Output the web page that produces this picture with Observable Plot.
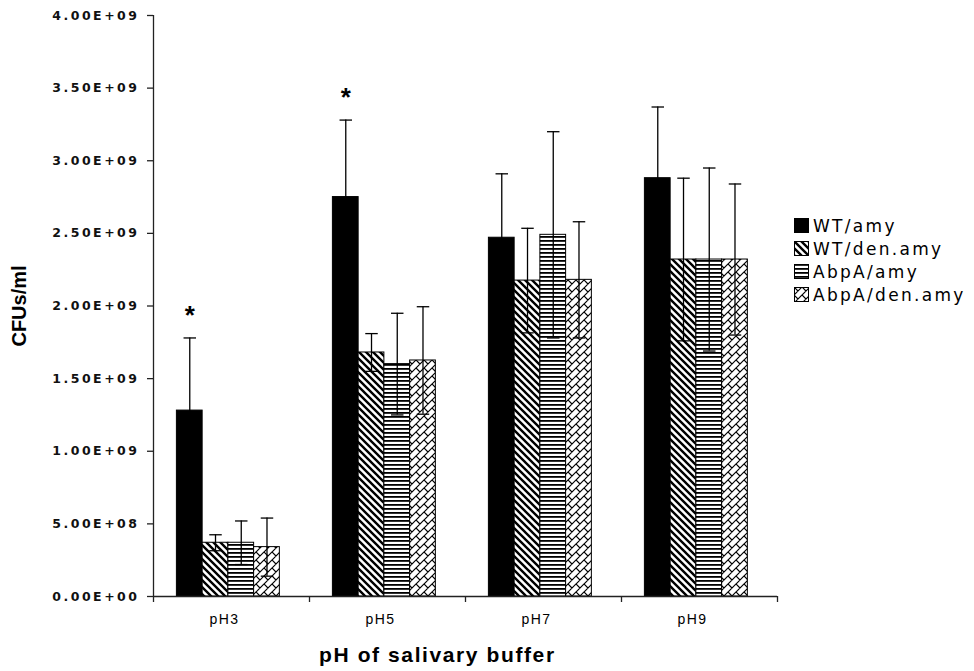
<!DOCTYPE html>
<html><head><meta charset="utf-8">
<script src="https://cdn.jsdelivr.net/npm/d3@7"></script>
<script src="https://cdn.jsdelivr.net/npm/@observablehq/plot@0.6"></script>
<style>
html,body{margin:0;padding:0;background:#fff;}
#wrap{position:relative;width:974px;height:671px;overflow:hidden;background:#fff;}
#wrap > svg.plotsvg{display:block;}
#legend{position:absolute;left:794px;top:214px;font-family:"DejaVu Sans";font-size:17px;letter-spacing:2.3px;color:#000;}
.row{height:23px;display:flex;align-items:center;white-space:nowrap;}
.row svg{margin-right:4px;flex:none;}
#xtitle{padding-left:319px;margin-top:5px;font:bold 21px "Liberation Sans";letter-spacing:1.6px;color:#000;line-height:24px;}
g[aria-label="y-axis tick label"] text{font-family:"DejaVu Sans",sans-serif !important;font-size:12.5px !important;font-weight:bold !important;letter-spacing:2.5px;}
g[aria-label="x-axis tick label"] text{font-family:"Liberation Sans",sans-serif !important;font-size:14px !important;letter-spacing:1.5px;}
g[aria-label="y-axis label"] text{font-family:"Liberation Sans",sans-serif !important;font-size:20px !important;font-weight:bold !important;}
</style>
</head><body>
<svg width="0" height="0" style="position:absolute">
<defs>
<pattern id="pDiag" patternUnits="userSpaceOnUse" width="7" height="7">
  <rect width="7" height="7" fill="#fff"/>
  <path d="M-1,-1 L8,8 M-1,6 L1,8 M6,-1 L8,1" stroke="#000" stroke-width="2.4"/>
</pattern>
<pattern id="pHoriz" patternUnits="userSpaceOnUse" width="8" height="4">
  <rect width="8" height="4" fill="#fff"/>
  <rect y="0" width="8" height="1.8" fill="#000"/>
</pattern>
<pattern id="pBrick" patternUnits="userSpaceOnUse" width="8" height="8">
  <rect width="8" height="8" fill="#fff"/>
  <path d="M-1,9 L9,-1 M-1,1 L1,-1 M7,9 L9,7 M0,0 L4,4" stroke="#000" stroke-width="1.2"/>
</pattern>
</defs>
</svg>
<div id="wrap"></div>
<script>
// ---- data ----
const categories = ["pH3", "pH5", "pH7", "pH9"];
const series = ["WT/amy", "WT/den.amy", "AbpA/amy", "AbpA/den.amy"];
const wtAmy        = [1.28e9, 2.75e9, 2.47e9, 2.88e9];
const wtAmyErr     = [0.50e9, 0.53e9, 0.44e9, 0.49e9];
const wtDenAmy     = [0.37e9, 1.68e9, 2.175e9, 2.32e9];
const wtDenAmyErr  = [0.055e9, 0.13e9, 0.36e9, 0.56e9];
const abpaAmy      = [0.37e9, 1.60e9, 2.49e9, 2.32e9];
const abpaAmyErr   = [0.15e9, 0.35e9, 0.71e9, 0.63e9];
const abpaDenAmy   = [0.34e9, 1.625e9, 2.18e9, 2.32e9];
const abpaDenAmyErr= [0.20e9, 0.37e9, 0.40e9, 0.52e9];
const significant  = ["pH3", "pH5"]; // WT/amy marked with *
const yTicks = [0, 0.5e9, 1.0e9, 1.5e9, 2.0e9, 2.5e9, 3.0e9, 3.5e9, 4.0e9];
const fills = ["#000", "url(#pDiag)", "url(#pHoriz)", "url(#pBrick)"];

// ---- layout of the grouped bars (in category units) ----
const GROUP_OFFSET = 0.15, BAR_W = 0.165, CAP = 0.04;
const means = [wtAmy, wtDenAmy, abpaAmy, abpaDenAmy];
const errs = [wtAmyErr, wtDenAmyErr, abpaAmyErr, abpaDenAmyErr];
const table = categories.flatMap((c, i) => series.map((s, j) => {
  const x1 = i + GROUP_OFFSET + j * BAR_W;
  return {category: c, series: s, value: means[j][i], err: errs[j][i], x1, x2: x1 + BAR_W, xc: x1 + BAR_W / 2};
}));
const stars = table.filter(d => d.series === series[0] && significant.includes(d.category));
const fmt = d => d.toExponential(2).toUpperCase().replace(/E([+-])(\d)$/, "E$10$2");

const chart = Plot.plot({
  width: 974, height: 638, marginLeft: 153, marginRight: 197, marginTop: 15, marginBottom: 42,
  style: {background: "white", color: "black", overflow: "visible"},
  x: {type: "linear", domain: [0, categories.length]},
  y: {domain: [0, 4e9]},
  color: {type: "ordinal", domain: series, range: fills},
  marks: [
    Plot.rect(table, {x1: "x1", x2: "x2", y1: 0, y2: "value", fill: "series", stroke: "#000", strokeWidth: 1}),
    Plot.ruleX(table, {x: "xc", y1: d => d.value - d.err, y2: d => d.value + d.err, stroke: "#000", strokeWidth: 1.3}),
    Plot.link(table, {x1: d => d.xc - CAP, x2: d => d.xc + CAP, y1: d => d.value + d.err, y2: d => d.value + d.err, stroke: "#000", strokeWidth: 1.3}),
    Plot.link(table, {x1: d => d.xc - CAP, x2: d => d.xc + CAP, y1: d => d.value - d.err, y2: d => d.value - d.err, stroke: "#000", strokeWidth: 1.3}),
    Plot.text(stars, {x: "xc", y: d => d.value + d.err, text: () => "*", dy: -22, fontSize: 26, fontWeight: "bold", fontFamily: "Liberation Sans", fill: "#000"}),
    Plot.ruleX([0], {stroke: "#222", strokeWidth: 1.3}),
    Plot.ruleY([0], {stroke: "#222", strokeWidth: 1.3}),
    Plot.axisY({ticks: yTicks, tickFormat: fmt, tickSize: 6, tickPadding: 8, label: null, fontSize: 12.5, fontWeight: "bold", stroke: "#222", strokeWidth: 1.3, fill: "#111"}),
    Plot.axisY({ticks: [], label: "CFUs/ml", labelAnchor: "center", labelArrow: "none", labelOffset: 142, fontSize: 20, fontWeight: "bold", fill: "#000"}),
    Plot.axisX({ticks: d3.range(0, categories.length + 1), tickSize: 6, tickFormat: () => "", label: null, stroke: "#222", strokeWidth: 1.3}),
    Plot.axisX({ticks: categories.map((c, i) => i + 0.5), tickSize: 0, tickPadding: 18, label: null, tickFormat: d => categories[Math.floor(d)], dx: -7, fontSize: 14, fill: "#000"})
  ]
});
chart.classList.add("plotsvg");
const wrap = document.getElementById("wrap");
wrap.appendChild(chart);

const title = document.createElement("div");
title.id = "xtitle";
title.textContent = "pH of salivary buffer";
wrap.appendChild(title);

const legend = document.createElement("div");
legend.id = "legend";
series.forEach((s, j) => {
  const row = document.createElement("div");
  row.className = "row";
  row.innerHTML = `<svg width="15" height="15"><rect x="0.5" y="0.5" width="14" height="14" fill="${fills[j]}" stroke="#000" stroke-width="1"/></svg><span>${s}</span>`;
  legend.appendChild(row);
});
wrap.appendChild(legend);
</script>
</body></html>
